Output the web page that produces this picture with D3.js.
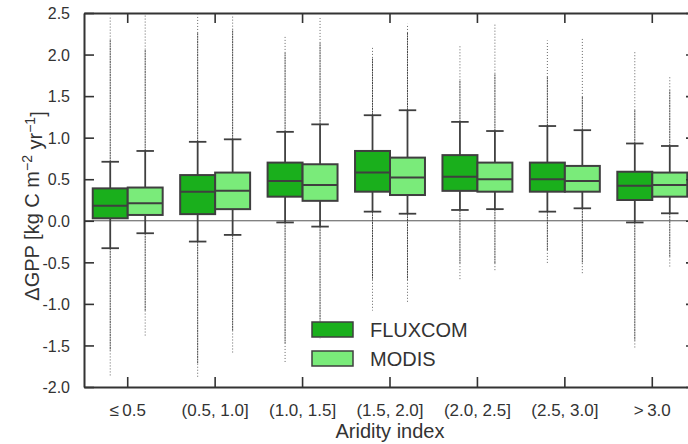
<!DOCTYPE html>
<html><head><meta charset="utf-8">
<script src="https://cdn.jsdelivr.net/npm/d3@7"></script>
<style>body{margin:0;background:#fff}svg{display:block;font-family:"Liberation Sans",Arial,sans-serif}</style>
</head><body><svg id="c" width="688" height="444"></svg>
<script>
const categories = ["\u2264\u20090.5","(0.5, 1.0]","(1.0, 1.5]","(1.5, 2.0]","(2.0, 2.5]","(2.5, 3.0]",">\u20093.0"];
const seriesNames = ["FLUXCOM","MODIS"];
const seriesColors = ["#1aaf1c","#7aeb7a"];
const yTicks = [-2.0,-1.5,-1.0,-0.5,0.0,0.5,1.0,1.5,2.0,2.5];
// [FLUXCOM per category], [MODIS per category]
const whiskerLow  = [[-0.33,-0.25,-0.02,0.11,0.13,0.11,-0.02],[-0.15,-0.17,-0.07,0.085,0.14,0.15,0.09]];
const q1          = [[0.03,0.08,0.29,0.35,0.36,0.35,0.25],[0.07,0.14,0.24,0.31,0.35,0.35,0.29]];
const median      = [[0.18,0.35,0.48,0.58,0.53,0.50,0.42],[0.21,0.36,0.43,0.52,0.50,0.48,0.43]];
const q3          = [[0.39,0.55,0.70,0.84,0.79,0.70,0.59],[0.40,0.58,0.68,0.76,0.70,0.66,0.58]];
const whiskerHigh = [[0.71,0.95,1.07,1.27,1.19,1.14,0.93],[0.84,0.98,1.16,1.33,1.08,1.09,0.90]];
// outlier extents: dense part and farthest points
const flierHighDense = [[2.18,2.26,2.02,1.96,1.69,1.73,1.33],[2.06,2.30,2.14,2.26,1.77,1.49,1.57]];
const flierHighMax   = [[2.47,2.48,2.23,2.10,2.12,2.17,2.04],[2.47,2.48,2.44,2.37,2.37,2.21,1.75]];
const flierLowDense  = [[-1.56,-1.72,-1.47,-0.71,-0.51,-0.35,-1.44],[-1.08,-1.32,-1.20,-0.71,-0.51,-0.51,-0.43]];
const flierLowMin    = [[-1.88,-1.88,-1.70,-1.08,-0.71,-0.51,-1.54],[-1.40,-1.60,-1.42,-0.98,-0.60,-0.65,-0.55]];

const svg = d3.select("#c");
const L = 84, R = 696, T = 13, B = 387;
const x = d3.scaleBand().domain(categories).range([L, R]).padding(0);
const y = d3.scaleLinear().domain([-2, 2.5]).range([B, T]);
const hue = d3.scaleBand().domain(seriesNames).range([0.1, 0.9]).padding(0);
const edge = "#3f3f3f";

// zero line
svg.append("line").attr("x1", L).attr("x2", R).attr("y1", y(0)).attr("y2", y(0))
  .attr("stroke", "#555").attr("stroke-width", 1);

// boxes
seriesNames.forEach((s, si) => {
  categories.forEach((c, ci) => {
    const bw = x.bandwidth() * hue.bandwidth();
    const x0 = x(c) + x.bandwidth() * hue(s);
    const cx = x0 + bw / 2;
    const g = svg.append("g");
    // fliers: dense and sparse parts
    g.append("line").attr("x1", cx).attr("x2", cx).attr("y1", y(whiskerHigh[si][ci])).attr("y2", y(flierHighDense[si][ci]))
      .attr("stroke", "#444").attr("stroke-width", 1).attr("stroke-dasharray", "2,0.6");
    g.append("line").attr("x1", cx).attr("x2", cx).attr("y1", y(flierHighDense[si][ci])).attr("y2", y(flierHighMax[si][ci]))
      .attr("stroke", "#666").attr("stroke-width", 1).attr("stroke-dasharray", "1,2");
    g.append("line").attr("x1", cx).attr("x2", cx).attr("y1", y(whiskerLow[si][ci])).attr("y2", y(flierLowDense[si][ci]))
      .attr("stroke", "#444").attr("stroke-width", 1).attr("stroke-dasharray", "2,0.6");
    g.append("line").attr("x1", cx).attr("x2", cx).attr("y1", y(flierLowDense[si][ci])).attr("y2", y(flierLowMin[si][ci]))
      .attr("stroke", "#666").attr("stroke-width", 1).attr("stroke-dasharray", "1,2");
    // whiskers
    g.append("line").attr("x1", cx).attr("x2", cx).attr("y1", y(q3[si][ci])).attr("y2", y(whiskerHigh[si][ci]))
      .attr("stroke", edge).attr("stroke-width", 1.8);
    g.append("line").attr("x1", cx).attr("x2", cx).attr("y1", y(q1[si][ci])).attr("y2", y(whiskerLow[si][ci]))
      .attr("stroke", edge).attr("stroke-width", 1.8);
    // caps
    [whiskerHigh[si][ci], whiskerLow[si][ci]].forEach(v => {
      g.append("line").attr("x1", cx - bw / 4).attr("x2", cx + bw / 4).attr("y1", y(v)).attr("y2", y(v))
        .attr("stroke", edge).attr("stroke-width", 1.8);
    });
    // box
    g.append("rect").attr("x", x0).attr("width", bw).attr("y", y(q3[si][ci]))
      .attr("height", y(q1[si][ci]) - y(q3[si][ci]))
      .attr("fill", seriesColors[si]).attr("stroke", edge).attr("stroke-width", 2);
    g.append("line").attr("x1", x0).attr("x2", x0 + bw).attr("y1", y(median[si][ci])).attr("y2", y(median[si][ci]))
      .attr("stroke", edge).attr("stroke-width", 2);
  });
});

// axes
const axCol = "#333";
const yl = svg.append("g").attr("transform", `translate(${L},0)`)
  .call(d3.axisLeft(y).tickValues(yTicks).tickFormat(d => d.toFixed(1)).tickSizeInner(-10).tickSizeOuter(0).tickPadding(14));
const yr = svg.append("g").attr("transform", `translate(${R},0)`)
  .call(d3.axisRight(y).tickValues(yTicks).tickFormat("").tickSizeInner(-10).tickSizeOuter(0));
const xb = svg.append("g").attr("transform", `translate(0,${B})`)
  .call(d3.axisBottom(x).tickSizeInner(-10).tickSizeOuter(0).tickPadding(17));
const xt = svg.append("g").attr("transform", `translate(0,${T})`)
  .call(d3.axisTop(x).tickFormat("").tickSizeInner(-10).tickSizeOuter(0));
[yl, yr, xb, xt].forEach(a => {
  a.select(".domain").attr("stroke", axCol).attr("stroke-width", 2);
  a.selectAll(".tick line").attr("stroke", axCol).attr("stroke-width", 1.6);
  a.selectAll("text").attr("fill", "#333").style("font-size", "16px").style("font-family", '"Liberation Sans",Arial,sans-serif');
});
xb.selectAll("text").style("font-size", "17px");
yl.selectAll("text").attr("dy", "0.36em");

// x-axis label
svg.append("text").attr("x", (L + R) / 2).attr("y", 438).attr("text-anchor", "middle")
  .attr("fill", "#333").style("font-size", "20px").text("Aridity index");

// y-axis label
const ylab = svg.append("text").attr("transform", `translate(39,206) rotate(-90)`).attr("text-anchor", "middle")
  .attr("fill", "#333").style("font-size", "20px");
ylab.append("tspan").text("\u0394GPP [kg C m");
ylab.append("tspan").attr("dy", "-0.5em").style("font-size", "14px").text("\u22122");
ylab.append("tspan").attr("dy", "0.5em").text(" yr");
ylab.append("tspan").attr("dy", "-0.5em").style("font-size", "14px").text("\u22121");
ylab.append("tspan").attr("dy", "0.5em").text("]");

// legend
const lg = svg.append("g").attr("transform", "translate(312,322)");
seriesNames.forEach((s, i) => {
  lg.append("rect").attr("x", 0).attr("y", i * 29).attr("width", 41).attr("height", 15)
    .attr("fill", seriesColors[i]).attr("stroke", edge).attr("stroke-width", 1.5);
  lg.append("text").attr("x", 58).attr("y", i * 29 + 15).attr("fill", "#333")
    .style("font-size", "20px").text(s);
});
</script></body></html>
